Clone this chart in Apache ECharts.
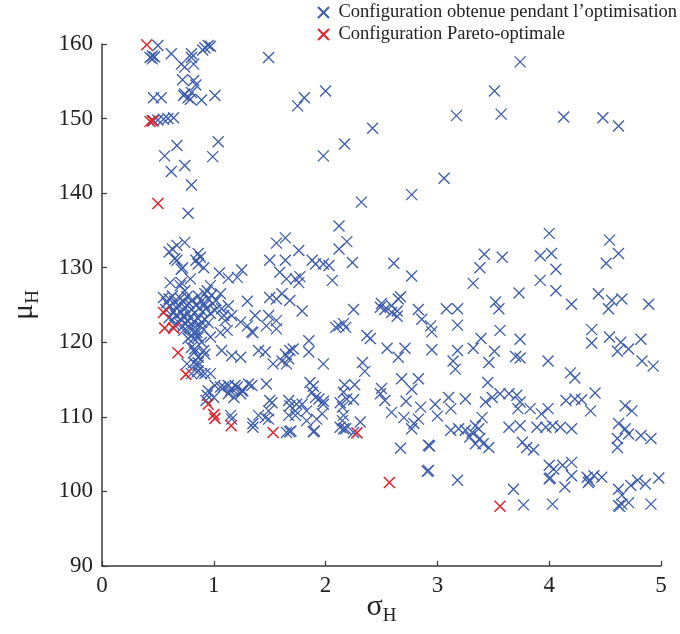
<!DOCTYPE html>
<html>
<head>
<meta charset="utf-8">
<script src="https://cdn.jsdelivr.net/npm/echarts@6/dist/echarts.min.js"></script>
<style>html,body{margin:0;padding:0;background:#fff}#c{width:680px;height:634px}</style>
</head>
<body>
<div id="c"></div>
<script>
// Axis ticks
const xTicks = [0, 1, 2, 3, 4, 5];
const yTicks = [90, 100, 110, 120, 130, 140, 150, 160];

const legendNames = ['Configuration obtenue pendant l\u2019optimisation', 'Configuration Pareto-optimale'];

// Pareto-optimal configurations [sigma_H, mu_H]
const paretoConfigs = [
  [0.40,159.9],[0.43,149.6],[0.45,149.7],[0.50,138.6],[0.55,124.0],[0.56,121.9],[0.64,121.9],
  [0.68,118.6],[0.75,115.7],[0.95,111.7],[1.00,110.3],[1.01,109.8],[1.155,108.8],[1.53,107.9],
  [2.28,107.85],[2.57,101.2],[3.56,98.0]
];

// Configurations obtained during the optimisation [sigma_H, mu_H]
const obtainedConfigs = [
  // top region
  [0.50,159.8],[0.43,158.2],[0.45,158.0],[0.47,158.3],[0.45,158.4],[0.62,158.7],[0.80,158.7],
  [0.90,159.2],[0.92,159.5],[0.95,159.8],[0.97,159.7],[1.49,158.2],[0.71,157.3],[0.74,156.9],
  [0.82,157.3],[0.80,158.2],[0.72,155.2],[0.82,155.1],[0.84,154.5],[0.46,152.8],[0.53,152.8],
  [0.74,153.3],[0.77,152.8],[0.80,153.5],[0.73,153.1],[0.79,152.6],[0.89,152.5],[1.01,153.1],
  [0.46,149.7],[0.50,149.8],[0.55,149.9],[0.59,150.0],[0.64,150.1],[0.67,146.4],[0.56,145.0],
  [1.04,146.9],[0.99,144.9],[0.74,143.7],[0.62,142.9],[0.80,141.1],[0.77,137.3],
  [1.75,151.7],[1.81,152.8],[2.00,153.7],[3.17,150.4],[2.42,148.7],[2.17,146.6],[1.98,145.0],
  [3.06,142.0],[2.77,139.8],[2.32,138.8],[2.12,135.6],
  [3.74,157.6],[3.51,153.7],[3.57,150.6],[4.13,150.2],[4.48,150.1],[4.62,149.0],
  // 125 - 135
  [1.56,133.3],[1.64,134.0],[0.63,132.5],[0.74,133.4],[0.67,133.0],[0.60,132.1],[0.86,131.9],
  [0.88,131.4],[0.67,131.0],[0.72,130.0],[0.84,131.0],[0.91,130.0],[1.05,129.3],[1.13,128.6],
  [1.21,128.7],[1.25,129.7],[1.50,131.0],[1.64,131.0],[1.59,129.4],[1.65,128.5],[0.61,128.0],
  [0.71,128.0],[0.79,128.5],[0.97,127.6],[0.92,126.5],[1.30,125.5],[1.50,126.0],[1.61,126.5],
  [0.65,131.2],[0.86,130.5],[0.71,129.8],[0.70,127.6],[0.74,126.9],[0.94,126.9],[0.98,126.3],
  [1.06,126.5],[1.07,124.5],[1.13,124.9],[1.16,123.6],[1.24,122.7],[1.30,122.2],
  [2.19,133.5],[2.12,132.5],[1.76,132.3],[1.88,131.0],[1.91,130.5],[1.98,130.5],[2.03,130.3],
  [2.24,130.7],[2.61,130.6],[2.77,128.9],[3.32,127.9],[1.73,128.5],[1.77,128.8],[1.76,128.0],
  [2.06,128.3],[1.68,125.6],[2.67,126.1],[2.50,125.2],
  [4.00,134.6],[4.54,133.7],[4.62,131.9],[4.51,130.6],[3.42,131.8],[3.58,131.4],[3.92,131.6],
  [4.02,131.9],[3.38,130.0],[4.06,129.8],[3.92,128.3],[4.06,126.9],[3.73,126.6],[4.44,126.5],
  [4.56,125.6],[4.65,125.8],[4.89,125.1],[3.52,125.4],[4.20,125.1],[3.55,124.5],[4.53,124.5],
  // dense cluster
  [0.55,126.0],[0.58,125.3],[0.60,125.8],[0.63,126.2],[0.65,125.5],[0.68,125.0],[0.70,125.9],
  [0.73,125.4],[0.76,126.1],[0.78,125.2],[0.81,125.7],[0.84,125.0],[0.86,126.2],[0.89,125.5],
  [0.92,125.0],[0.95,125.8],[0.99,125.2],[1.02,125.6],
  [0.57,124.4],[0.61,124.8],[0.64,124.1],[0.67,124.6],[0.71,124.0],[0.74,124.7],[0.77,123.9],
  [0.80,124.4],[0.83,124.0],[0.87,124.6],[0.90,124.1],[0.93,124.5],[0.97,123.9],[1.01,124.3],
  [0.60,123.3],[0.63,123.0],[0.66,123.6],[0.70,123.1],[0.73,123.5],[0.76,122.9],[0.79,123.3],
  [0.82,122.8],[0.86,123.2],[0.89,122.7],[0.92,123.1],[0.95,122.6],
  [0.65,122.3],[0.69,122.6],[0.72,122.1],[0.75,122.5],[0.78,122.0],[0.88,122.2],[0.91,121.7],
  // left middle
  [1.56,125.8],[1.09,123.6],[1.10,122.9],[1.37,123.6],[1.49,123.6],[1.56,122.9],[1.34,121.4],
  [1.56,121.8],[0.97,120.7],[1.06,121.3],[1.07,118.9],[1.24,118.0],[1.40,118.9],[1.46,118.7],
  [1.16,118.2],[1.53,117.1],[1.61,117.5],[1.64,118.4],[1.68,118.9],[1.71,119.1],[1.67,117.8],
  [1.65,117.1],
  [0.92,118.4],[0.89,120.0],[0.83,119.1],[0.80,120.9],[0.85,121.3],[0.83,122.0],[0.76,117.1],
  [0.82,117.3],[0.86,116.9],[0.80,115.8],[0.86,116.2],[0.92,115.8],[0.97,115.8],[0.95,113.5],
  [0.94,112.9],[1.01,114.2],[1.09,114.0],[1.15,113.5],[1.19,114.2],[1.26,113.5],[1.34,114.2],
  [1.47,114.4],[1.15,110.2],[1.16,109.7],[1.35,109.1],[1.40,110.2],[1.49,110.8],[1.52,111.9],
  [1.49,109.7],[1.65,107.9],
  [0.73,121.6],[0.79,121.8],[0.83,121.3],[0.77,120.5],[0.82,120.5],[0.86,120.7],[1.12,121.6],
  [0.80,119.3],[0.83,118.7],[0.91,118.9],[0.86,118.0],[0.85,116.0],[0.89,115.8],[0.86,117.3],
  [1.06,114.0],[1.13,114.2],[1.21,114.0],[1.25,113.5],[1.31,114.4],[1.00,112.6],[0.93,112.2],
  [1.13,113.1],[1.18,112.6],[1.24,113.1],[1.16,113.8],
  [1.35,121.3],[1.47,122.2],[2.12,122.2],[1.50,112.2],[1.67,112.2],[1.74,111.7],[1.91,112.6],
  [1.73,110.2],[1.83,109.5],[1.46,109.9],[1.35,108.6],[2.15,111.3],[2.15,109.5],
  // middle region
  [1.79,124.2],[2.25,124.4],[2.49,124.7],[2.53,124.4],[2.59,124.9],[2.64,124.2],[2.65,125.8],
  [2.64,123.5],[2.59,124.0],[2.83,124.4],[2.86,123.1],[3.08,124.5],[3.18,124.5],[3.18,122.3],
  [2.94,122.2],[2.95,121.4],[2.09,122.0],[2.16,122.5],[2.18,122.0],[2.37,120.9],[2.40,120.5],
  [1.85,120.2],[1.85,118.7],[1.98,117.1],[2.33,117.3],[2.35,116.1],[2.55,119.2],[2.65,118.0],
  [2.71,119.2],[2.95,119.0],[3.18,118.9],[3.14,117.5],[3.16,116.4],[3.32,119.2],[1.86,114.6],
  [1.89,114.1],[1.88,113.3],[1.94,112.4],[1.98,112.1],[2.17,114.3],[2.26,114.3],[2.16,113.3],
  [2.19,112.4],[2.13,111.9],[2.25,112.3],[2.68,115.1],[2.77,113.7],[2.83,115.1],[2.50,113.8],
  [2.53,112.2],[2.49,113.1],[2.72,112.1],[2.85,111.3],[2.98,111.7],[3.10,112.6],[3.12,111.1],
  [3.25,112.4],[3.00,110.1],[1.68,111.5],[1.79,111.7],[1.73,110.8],[1.83,110.8],[1.67,110.2],
  [1.97,110.4],[1.98,111.7],[1.92,109.7],[2.16,110.2],[2.31,109.3],[2.13,108.6],[2.18,108.4],
  [2.59,110.6],[2.70,109.9],[2.83,109.7],[2.79,109.1],[2.77,108.4],[1.68,108.0],[1.69,108.1],
  [1.89,108.0],[1.90,108.1],[2.16,108.4],[2.25,107.9],[3.12,108.2],[3.19,108.4],[3.25,108.2],
  [3.31,107.9],[3.34,106.4],[3.29,107.3],[2.67,105.8],[2.93,106.1],[2.92,106.2],[2.91,102.7],
  [2.92,102.8],[3.18,101.5],
  // right region
  [3.56,121.6],[3.39,120.5],[3.74,120.4],[3.51,118.8],[3.46,117.3],[3.70,118.1],[3.74,117.9],
  [3.99,117.5],[4.38,121.7],[4.38,119.9],[4.54,120.7],[4.64,120.0],[4.61,118.8],[4.71,119.1],
  [4.82,120.4],[4.83,117.5],[4.93,116.8],[4.19,115.9],[4.23,115.2],[3.45,114.6],[4.41,113.2],
  [4.15,112.2],[4.23,112.4],[4.29,112.3],[4.37,110.8],[4.68,111.5],[4.74,110.8],[3.43,112.0],
  [3.49,112.6],[3.56,113.1],[3.64,113.1],[3.71,112.9],[3.74,112.0],[3.72,111.1],[3.83,111.1],
  [3.93,110.4],[3.99,111.1],[3.40,109.9],[3.34,108.8],[3.37,108.4],[3.64,108.6],[3.74,108.8],
  [3.89,108.6],[3.97,108.6],[4.03,108.8],[4.10,108.6],[4.20,108.4],[4.62,109.1],[4.68,108.4],
  [4.71,107.7],[4.82,107.5],[4.91,107.1],[4.61,107.1],[4.61,105.9],[3.38,107.1],[3.46,105.9],
  [3.41,106.4],[3.76,106.6],[3.80,105.9],[3.86,105.6],[4.00,103.5],[4.00,101.7],[4.01,101.8],
  [4.04,103.0],[4.12,103.5],[4.20,103.9],[4.20,102.1],[4.14,100.6],[4.35,101.2],[4.36,101.4],
  [4.40,102.1],[4.47,101.9],[4.34,101.9],[3.68,100.3],[3.77,98.2],[4.03,98.3],[4.62,100.3],
  [4.65,99.5],[4.73,100.8],[4.79,101.5],[4.86,101.0],[4.98,101.8],[4.62,98.1],[4.63,98.0],
  [4.65,98.3],[4.71,98.5],[4.91,98.3]
];

const BLUE = '#3b5bab';
const RED = '#e3242b';
const SERIF = '"Liberation Serif", "DejaVu Serif", serif';
const X_MARK = 'path://M0,0L10,10M10,0L0,10';

const nameRich = {
  s: {fontFamily: SERIF, fontSize: 30, color: '#222', verticalAlign: 'top', lineHeight: 34},
  sub: {fontFamily: SERIF, fontSize: 19, color: '#222', verticalAlign: 'bottom', lineHeight: 19, padding: [30, 0, 0, 0]}
};

const chart = echarts.init(document.getElementById('c'), null, {renderer: 'canvas'});
chart.setOption({
  animation: false,
  backgroundColor: '#fff',
  grid: {left: 102, right: 19, top: 44, bottom: 68, containLabel: false, outerBoundsMode: 'none'},
  legend: {
    orient: 'vertical',
    left: 312,
    top: -2,
    itemWidth: 20,
    itemHeight: 11,
    itemGap: 3,
    textStyle: {fontFamily: SERIF, fontSize: 18.5, color: '#222'},
    data: legendNames
  },
  xAxis: {
    type: 'value',
    min: xTicks[0], max: xTicks[xTicks.length - 1], interval: 1,
    name: '{s|\u03c3}{sub|H}',
    nameLocation: 'middle',
    nameGap: 26,
    nameMoveOverlap: false,
    nameTextStyle: {rich: nameRich},
    axisLine: {show: true, onZero: false, lineStyle: {color: '#3a3a3a', width: 1.5}},
    axisTick: {show: true, inside: true, length: 5, lineStyle: {color: '#3a3a3a', width: 1.2}},
    axisLabel: {fontFamily: SERIF, fontSize: 23, color: '#222', margin: 8},
    splitLine: {show: false}
  },
  yAxis: {
    type: 'value',
    min: yTicks[0], max: yTicks[yTicks.length - 1], interval: 10,
    name: '{s|\u03bc}{sub|H}',
    nameLocation: 'middle',
    nameRotate: 90,
    nameGap: 59,
    nameMoveOverlap: false,
    nameTextStyle: {rich: nameRich},
    axisLine: {show: true, onZero: false, lineStyle: {color: '#3a3a3a', width: 1.5}},
    axisTick: {show: true, inside: true, length: 5, lineStyle: {color: '#3a3a3a', width: 1.2}},
    axisLabel: {fontFamily: SERIF, fontSize: 23, color: '#222', margin: 9},
    splitLine: {show: false}
  },
  series: [
    {
      name: legendNames[0],
      type: 'scatter',
      data: obtainedConfigs,
      symbol: X_MARK,
      symbolSize: 11,
      symbolKeepAspect: true,
      itemStyle: {color: 'rgba(0,0,0,0)', borderColor: BLUE, borderWidth: 1.3, opacity: 1}
    },
    {
      name: legendNames[1],
      type: 'scatter',
      data: paretoConfigs,
      symbol: X_MARK,
      symbolSize: 11,
      symbolKeepAspect: true,
      z: 3,
      itemStyle: {color: 'rgba(0,0,0,0)', borderColor: RED, borderWidth: 1.5, opacity: 1}
    }
  ]
});
</script>
</body>
</html>
